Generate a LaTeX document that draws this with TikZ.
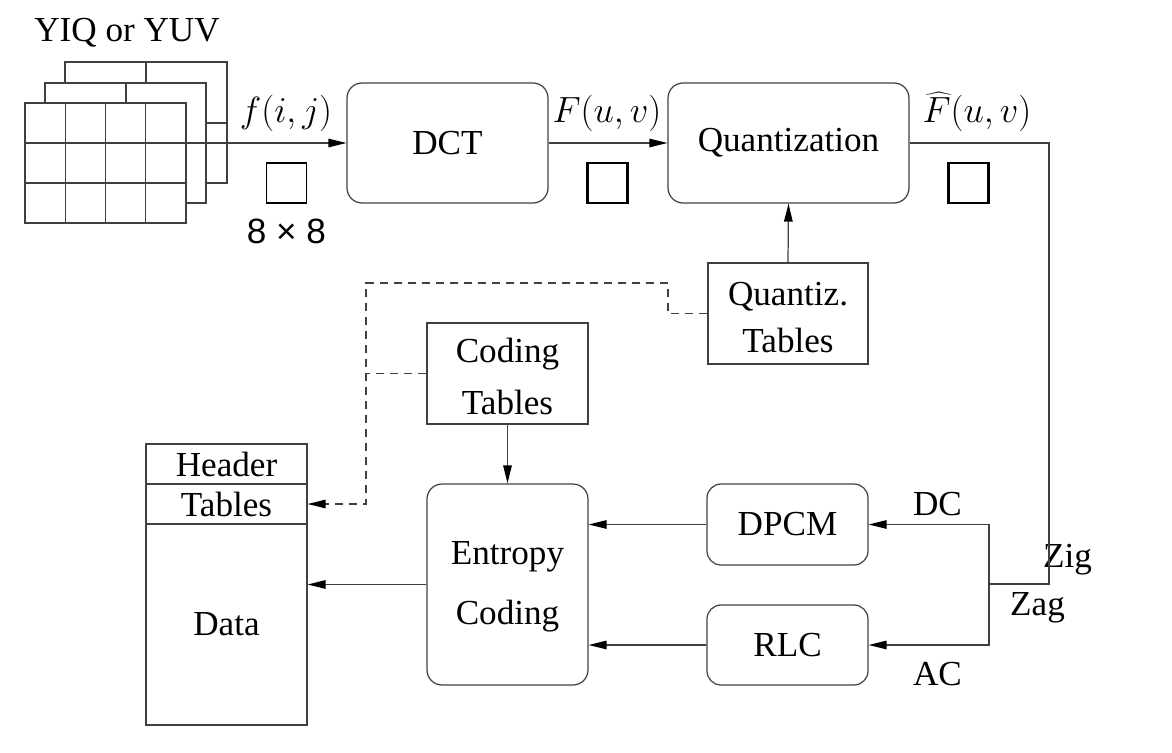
\documentclass[tikz,border=0pt]{standalone}
\usepackage[no-math]{fontspec}
\setmainfont{Liberation Serif}
\newfontfamily\helv{Liberation Sans}
\usetikzlibrary{arrows.meta,calc}
\newcommand\lowr[2]{\raisebox{-#1}[\height][\depth]{#2}}
\begin{document}
\begin{tikzpicture}[x=0.02cm,y=-0.02cm,
  every node/.style={font=\fontsize{20}{24}\selectfont, inner sep=0pt},
  ln/.style={draw=black!75, line width=0.7pt},
  arr/.style={ln, -{Triangle[length=0.36cm,width=0.17cm,color=black]}},
  rbox/.style={ln, rounded corners=0.3cm, align=center},
  sbox/.style={ln, align=center},
  dsh/.style={dash pattern=on 0.16cm off 0.12cm},
  thinsq/.style={draw=black, line width=0.8pt, minimum size=0.8cm},
  thicksq/.style={draw=black, line width=1.2pt, minimum size=0.8cm},
]
\useasboundingbox (0,0) rectangle (1172,753);

% image frames
\begin{scope}[ln]
  \filldraw[fill=white] (65,62) rectangle (227,183);
  \draw (146,62) -- (146,183);
  \draw (65,123) -- (227,123);
  \filldraw[fill=white] (45,83) rectangle (206,203);
  \draw (126,83) -- (126,203);
  \draw (45,143) -- (206,143);
  \filldraw[fill=white] (25,103) rectangle (186,223);
  \foreach \x in {65.25,105.5,145.75} \draw (\x,103) -- (\x,223);
  \foreach \y in {143,183} \draw (25,\y) -- (186,\y);
\end{scope}
\coordinate (src) at (206,143);

\node[anchor=base] (yiq) at (127,42) {YIQ or YUV};

% main boxes
\node[rbox, minimum width=4.02cm, minimum height=2.4cm] (dct) at (447.5,143) {DCT};
\node[rbox, minimum width=4.82cm, minimum height=2.4cm] (quant) at (788.5,143) {Quantization};
\node[sbox, minimum width=3.2cm, minimum height=2.02cm, font=\fontsize{20}{26.7}\selectfont] (qtab) at (788,313.5) {\lowr{0.08cm}{Quantiz.}\\\lowr{0.08cm}{Tables}};
\node[sbox, minimum width=3.22cm, minimum height=2.02cm, font=\fontsize{20}{29.5}\selectfont] (ctab) at (507.5,373.5) {\lowr{0.06cm}{Coding}\\\lowr{0.06cm}{Tables}};
\node[rbox, minimum width=3.22cm, minimum height=4.02cm, font=\fontsize{20}{34}\selectfont] (ent) at (507.5,584.5) {\lowr{0.05cm}{Entropy}\\\lowr{0.05cm}{Coding}};
\node[rbox, rounded corners=0.28cm, minimum width=3.22cm, minimum height=1.62cm] (dpcm) at (787.5,524.5) {DPCM};
\node[rbox, rounded corners=0.28cm, minimum width=3.22cm, minimum height=1.6cm] (rlc) at (787.5,645) {RLC};

% output file
\node[sbox, minimum width=3.22cm, minimum height=0.8cm] (header) at (226.5,464) {Header};
\node[sbox, minimum width=3.22cm, minimum height=0.8cm] (tables) at (226.5,504) {Tables};
\node[sbox, minimum width=3.22cm, minimum height=4.02cm] (data) at (226.5,624.5) {Data};

% block squares
\node[thinsq] (sq1) at (286.5,183) {};
\node[thicksq] (sq2) at (607.5,183) {};
\node[thicksq] (sq3) at (968.5,183) {};

% labels
\node[anchor=base] (lf) at (286,123) {$f(i,j)$};
\node[anchor=base, font=\helv\fontsize{20}{24}\selectfont] (l88) at (286.5,243) {8 × 8};
\node[anchor=base] (lF) at (607,123) {$F(u,v)$};
\node[anchor=base] (lFh) at (977,123) {$\widehat{F}(u,v)$};
\node[anchor=base] (ldc) at (937.5,515) {DC};
\node[anchor=base] (lac) at (937.5,685) {AC};
\node[anchor=base] (lzig) at (1067.5,567) {Zig};
\node[anchor=base] (lzag) at (1037.5,615) {Zag};

% connectors
\draw[arr] (src) -- (dct.west);
\draw[arr] (dct.east) -- (quant.west);
\draw[arr] (qtab.north) -- (quant.south);
\draw[arr] (ctab.south) -- (ent.north);
\draw[arr] (dpcm.west) -- (dpcm.west -| ent.east);
\draw[arr] (rlc.west) -- (rlc.west -| ent.east);
\draw[arr] (ent.west) -- (ent.west -| data.east);

\coordinate (zr) at (1049,584);
\coordinate (zl) at (989,584);
\draw[ln] (quant.east) -| (zr) -- (zl);
\draw[arr] (zl) |- (dpcm.east);
\draw[arr] (zl) |- (rlc.east);

\coordinate (d1) at (668,283);
\coordinate (d2) at (366,283);
\draw[arr, dsh] (qtab.west) -| (d1) -- (d2) |- (tables.east);
\draw[ln, dsh] (ctab.west) -- (ctab.west -| d2);
\end{tikzpicture}
\end{document}
